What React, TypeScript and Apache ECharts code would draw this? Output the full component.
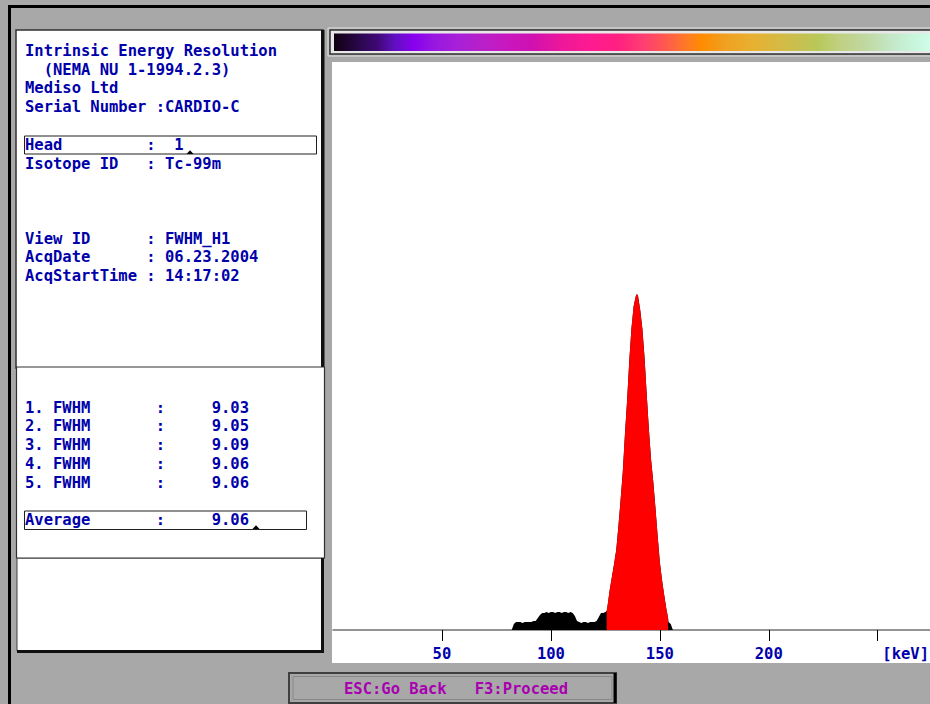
import React, { useEffect, useRef } from "react";
import * as echarts from "echarts";

// ---------- data ----------
const energyKeV = [
  82, 83, 84, 85, 86, 87, 88, 89, 90, 91, 92, 93, 94, 95, 96, 97, 98, 99, 100,
  101, 102, 103, 104, 105, 106, 107, 108, 109, 110, 111, 112, 113, 114, 115,
  116, 117, 118, 119, 120, 121, 122, 123, 124, 125, 125.6, 126, 127, 128, 129,
  130, 131, 132, 133, 134, 135, 136, 137, 138, 139, 139.5, 140, 141, 142, 143,
  144, 145, 146, 147, 148, 149, 150, 151, 152, 153, 153.8, 154, 155, 156,
];
const counts = [
  0, 6, 8, 8, 8, 7, 8, 8, 8, 8, 9, 9, 12, 15, 17, 17, 18, 17, 18,
  18, 17, 18, 18, 17, 18, 18, 17, 18, 17, 14, 9, 8, 7, 8,
  8, 7, 8, 8, 8, 9, 13, 17, 17, 18, 19, 24, 40, 53, 66,
  80, 104, 130, 158, 196, 230, 270, 302, 324, 334, 336, 334, 320, 301, 272,
  235, 200, 170, 148, 122, 94, 68, 50, 35, 21, 12, 8, 6, 0,
];
const windowLowKeV = 125.6;
const windowHighKeV = 153.8;

const tickValues = [50, 100, 150, 200, 250];
const labelValues = [50, 100, 150, 200];
const axisUnit = "[keV]";

const headerLines = [
  "Intrinsic Energy Resolution",
  "  (NEMA NU 1-1994.2.3)",
  "Mediso Ltd",
  "Serial Number :CARDIO-C",
];
const headValue = "1";
const isotopeId = "Tc-99m";
const viewFields = [
  ["View ID", "FWHM_H1"],
  ["AcqDate", "06.23.2004"],
  ["AcqStartTime", "14:17:02"],
];
const fwhmValues = [9.03, 9.05, 9.09, 9.06, 9.06];
const averageFwhm = 9.06;
const footerText = "ESC:Go Back   F3:Proceed";

// ---------- styles ----------
const FONT = 'bold 15.5px "DejaVu Sans Mono", "Liberation Mono", monospace';
const BLUE = "#0000aa";
const MAGENTA = "#a800b0";
const GRAY = "#a8a8a8";

const colorStops = [
  [0, "#100010"], [0.04, "#280848"], [0.074, "#400878"], [0.102, "#6010c0"],
  [0.133, "#8800ee"], [0.169, "#9818e0"], [0.208, "#a820d8"], [0.248, "#b820c8"],
  [0.287, "#c818c0"], [0.332, "#d010b0"], [0.388, "#f01898"], [0.433, "#ff1a90"],
  [0.477, "#ff2080"], [0.522, "#ff4070"], [0.555, "#ff5850"], [0.589, "#ff7828"],
  [0.617, "#ff8c00"], [0.656, "#f0a020"], [0.701, "#e8b030"], [0.74, "#d8b840"],
  [0.779, "#c8c050"], [0.812, "#b8c858"], [0.846, "#c0d080"], [0.891, "#c0d8a0"],
  [0.936, "#c4e8c8"], [0.98, "#c8f8e0"], [1, "#d0fce8"],
];

function txt(text: string, x: number, y: number, fill = BLUE, align = "left") {
  return {
    type: "text",
    x,
    y,
    z: 10,
    style: {
      text,
      fill,
      font: FONT,
      textAlign: align,
      textVerticalAlign: "middle",
      align,
      verticalAlign: "middle",
    },
  };
}

function rect(x: number, y: number, w: number, h: number, style: any, z = -5) {
  return { type: "rect", z, shape: { x, y, width: w, height: h }, style };
}

export default function App() {
  const ref = useRef<HTMLDivElement>(null);

  useEffect(() => {
    if (!ref.current) return;
    const chart = echarts.init(ref.current, null, { renderer: "svg" });

    const spectrum = energyKeV.map((e, i) => [e, counts[i]]);
    const windowed = spectrum.filter(
      (p) => p[0] >= windowLowKeV && p[0] <= windowHighKeV
    );

    const graphics: any[] = [];
    // screen borders
    graphics.push(rect(8, 5, 922, 3, { fill: "#000" }, -8));
    graphics.push(rect(8, 5, 3, 699, { fill: "#000" }, -8));

    // panel 1
    graphics.push(rect(16, 30, 307, 338, { fill: "#fff", stroke: "#303030", lineWidth: 1.5 }, -6));
    graphics.push(rect(321, 30, 3.5, 338, { fill: "#101010" }, -5));
    // panel 2
    graphics.push(rect(16.5, 367, 308, 191, { fill: "#fff", stroke: "#303030", lineWidth: 1.2 }, -5));
    // panel 3
    graphics.push(rect(17, 558, 305, 93, { fill: "#fff", stroke: "#404040", lineWidth: 1 }, -6));
    graphics.push(rect(321, 558, 3, 95, { fill: "#101010" }, -5));
    graphics.push(rect(17, 650, 307, 3, { fill: "#101010" }, -5));

    // colour bar
    graphics.push(rect(328, 28, 612, 28, { fill: "none", stroke: "#e0e0e0", lineWidth: 1 }, -6));
    graphics.push(rect(330, 30, 608, 24, { fill: "#e8e8e8", stroke: "#303030", lineWidth: 1.5 }, -6));
    graphics.push(
      rect(334, 33.5, 596, 17.5, {
        fill: {
          type: "linear", x: 0, y: 0, x2: 1, y2: 0,
          colorStops: colorStops.map(([o, c]) => ({ offset: o, color: c })),
        },
      }, -5)
    );

    // plot area background
    graphics.push(rect(332, 62, 600, 601, { fill: "#fff" }, -6));

    // footer button
    graphics.push(rect(289, 673, 327, 30, { fill: GRAY, stroke: "#404040", lineWidth: 2 }, -6));
    graphics.push(rect(293, 676.5, 319, 23, { fill: "none", stroke: "#888", lineWidth: 1 }, -5));
    graphics.push(rect(613.5, 673, 3, 30, { fill: "#000" }, -5));
    graphics.push(txt(footerText, 344, 688.5, MAGENTA));

    // header text
    headerLines.forEach((l, i) => graphics.push(txt(l, 25, 51 + i * 18.7)));
    graphics.push(rect(24.5, 136, 292, 18, { fill: "none", stroke: "#202020", lineWidth: 1 }, -4));
    graphics.push(txt("Head".padEnd(13) + ":  " + headValue, 25, 145));
    graphics.push({ type: "polygon", z: 11, shape: { points: [[186.5, 154], [190, 150.3], [193.5, 154]] }, style: { fill: "#000" } });
    graphics.push(txt("Isotope ID".padEnd(13) + ": " + isotopeId, 25, 164));
    viewFields.forEach(([k, v], i) =>
      graphics.push(txt(k.padEnd(13) + ": " + v, 25, 238.5 + i * 18.8))
    );

    // FWHM results
    fwhmValues.forEach((v, i) =>
      graphics.push(txt(`${i + 1}. FWHM`.padEnd(14) + ":     " + v.toFixed(2), 25, 407.5 + i * 18.8))
    );
    graphics.push(rect(24.5, 511, 282, 18.5, { fill: "none", stroke: "#202020", lineWidth: 1 }, -4));
    graphics.push(txt("Average".padEnd(14) + ":     " + averageFwhm.toFixed(2), 25, 520));
    graphics.push({ type: "polygon", z: 11, shape: { points: [[252.5, 529], [256, 525.3], [259.5, 529]] }, style: { fill: "#000" } });

    // axis unit
    graphics.push(txt(axisUnit, 929, 653.5, BLUE, "right"));

    chart.setOption({
      animation: false,
      backgroundColor: GRAY,
      graphic: { elements: graphics },
      grid: { left: 333, top: 62, width: 274 * 2.18, height: 568, containLabel: false },
      xAxis: {
        type: "value",
        min: 0,
        max: 274,
        interval: 50,
        splitLine: { show: false },
        axisLine: { show: true, onZero: false, lineStyle: { color: "#707070", width: 1.5 } },
        axisTick: {
          show: true,
          length: 11,
          customValues: tickValues,
          lineStyle: { color: "#000", width: 1 },
        },
        axisLabel: {
          show: true,
          customValues: labelValues,
          margin: 16,
          color: BLUE,
          fontFamily: '"DejaVu Sans Mono", "Liberation Mono", monospace',
          fontWeight: "bold",
          fontSize: 15.5,
        },
      },
      yAxis: { type: "value", min: 0, max: 568, show: false, splitLine: { show: false } },
      series: [
        {
          type: "line",
          data: spectrum,
          symbol: "none",
          lineStyle: { width: 0, color: "#000" },
          areaStyle: { color: "#000", opacity: 1 },
          z: 2,
        },
        {
          type: "line",
          data: windowed,
          symbol: "none",
          lineStyle: { width: 0, color: "#ff0000" },
          areaStyle: { color: "#ff0000", opacity: 1 },
          z: 3,
        },
      ],
    });

    return () => chart.dispose();
  }, []);

  return (
    <div
      ref={ref}
      style={{ position: "fixed", left: 0, top: 0, width: 930, height: 704 }}
    />
  );
}
